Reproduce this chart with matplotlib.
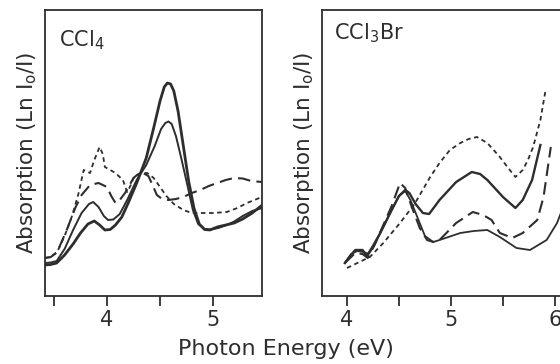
import numpy as np
import matplotlib.pyplot as plt

plt.rcParams['font.family'] = ['DejaVu Sans']
plt.rcParams['mathtext.fontset'] = 'dejavusans'

ink = '#2e2e2e'

# CCl4 spectra (photon energy in eV, absorption in arbitrary units)
ccl4_e_thick = [3.415, 3.47, 3.525, 3.6, 3.68, 3.75, 3.82, 3.88, 3.93, 3.98, 4.03, 4.08,
                4.14, 4.2, 4.28, 4.37, 4.44, 4.5, 4.54, 4.57, 4.6, 4.63, 4.67, 4.72,
                4.77, 4.82, 4.87, 4.92, 4.97, 5.04, 5.12, 5.2, 5.28, 5.37, 5.465]
ccl4_a_thick = [0.31, 0.315, 0.33, 0.41, 0.52, 0.63, 0.72, 0.75, 0.71, 0.66, 0.665, 0.71,
                0.79, 0.93, 1.13, 1.38, 1.68, 1.95, 2.09, 2.13, 2.12, 2.05, 1.85, 1.5,
                1.15, 0.88, 0.72, 0.665, 0.66, 0.69, 0.71, 0.73, 0.77, 0.83, 0.91]

ccl4_e_thin = [3.415, 3.47, 3.525, 3.6, 3.68, 3.76, 3.83, 3.87, 3.92, 3.97, 4.01, 4.06,
               4.12, 4.19, 4.28, 4.37, 4.45, 4.51, 4.55, 4.58, 4.61, 4.65, 4.7, 4.76,
               4.81, 4.86, 4.92, 4.98, 5.05, 5.13, 5.2, 5.28, 5.37, 5.465]
ccl4_a_thin = [0.33, 0.335, 0.35, 0.47, 0.66, 0.83, 0.92, 0.94, 0.89, 0.8, 0.76, 0.765,
               0.82, 0.96, 1.16, 1.31, 1.5, 1.67, 1.73, 1.745, 1.72, 1.6, 1.38, 1.1,
               0.86, 0.72, 0.67, 0.665, 0.68, 0.71, 0.745, 0.8, 0.85, 0.88]

ccl4_e_short = [3.415, 3.47, 3.53, 3.6, 3.67, 3.73, 3.78, 3.84, 3.88, 3.93, 3.96, 3.98,
                4.03, 4.08, 4.15, 4.19, 4.22, 4.25, 4.31, 4.38, 4.44, 4.5, 4.56, 4.63,
                4.72, 4.8, 4.9, 5.0, 5.13, 5.23, 5.32, 5.46]
ccl4_a_short = [0.38, 0.39, 0.44, 0.6, 0.8, 1.02, 1.26, 1.23, 1.36, 1.49, 1.42, 1.29,
                1.26, 1.23, 1.16, 1.04, 1.1, 1.18, 1.23, 1.23, 1.18, 1.09, 1.0, 0.92,
                0.86, 0.83, 0.83, 0.83, 0.84, 0.88, 0.93, 0.99]

ccl4_e_long = [3.415, 3.47, 3.53, 3.62, 3.7, 3.76, 3.84, 3.92, 4.0, 4.04, 4.08, 4.12,
               4.17, 4.25, 4.3, 4.34, 4.39, 4.43, 4.47, 4.52, 4.58, 4.65, 4.72, 4.8,
               4.88, 4.96, 5.04, 5.12, 5.2, 5.28, 5.36, 5.46]
ccl4_a_long = [0.38, 0.39, 0.44, 0.66, 0.88, 1.01, 1.11, 1.13, 1.09, 1.0, 0.93, 0.96,
               1.03, 1.18, 1.225, 1.23, 1.2, 1.11, 1.01, 0.97, 0.96, 0.97, 0.99, 1.03,
               1.06, 1.1, 1.13, 1.16, 1.18, 1.175, 1.15, 1.14]

# CCl3Br spectra
br_e_short = [4.0, 4.1, 4.22, 4.35, 4.51, 4.65, 4.8, 4.89, 4.99, 5.09, 5.17, 5.25,
              5.35, 5.47, 5.55, 5.62, 5.69, 5.74, 5.79, 5.86, 5.91]
br_a_short = [0.28, 0.33, 0.39, 0.53, 0.73, 0.92, 1.19, 1.33, 1.46, 1.53, 1.57, 1.59,
              1.53, 1.39, 1.28, 1.19, 1.26, 1.36, 1.49, 1.76, 2.06]

br_e_upper = [3.98, 4.03, 4.08, 4.15, 4.19, 4.25, 4.32, 4.43, 4.5, 4.56, 4.6, 4.66,
              4.73, 4.79, 4.89, 5.05, 5.2, 5.28, 5.35, 5.5, 5.62, 5.69, 5.78, 5.86]
br_a_upper = [0.33, 0.4, 0.46, 0.46, 0.4, 0.5, 0.63, 0.86, 1.0, 1.06, 1.03, 0.92,
              0.83, 0.82, 0.96, 1.14, 1.24, 1.22, 1.16, 0.99, 0.88, 0.96, 1.16, 1.51]

br_e_long = [3.98, 4.03, 4.08, 4.15, 4.2, 4.26, 4.32, 4.43, 4.51, 4.56, 4.62, 4.7,
             4.77, 4.83, 4.89, 5.05, 5.21, 5.31, 5.39, 5.47, 5.59, 5.69, 5.83, 5.89, 5.96]
br_a_long = [0.33, 0.38, 0.43, 0.42, 0.38, 0.5, 0.64, 0.9, 1.13, 1.08, 0.9, 0.68,
             0.56, 0.54, 0.56, 0.73, 0.84, 0.81, 0.76, 0.63, 0.58, 0.63, 0.76, 0.99, 1.49]

br_e_lower = [3.98, 4.04, 4.1, 4.16, 4.21, 4.27, 4.32, 4.43, 4.5, 4.56, 4.61, 4.68,
              4.75, 4.83, 4.89, 5.09, 5.22, 5.35, 5.47, 5.63, 5.76, 5.92, 6.02, 6.12]
br_a_lower = [0.33, 0.42, 0.45, 0.44, 0.42, 0.52, 0.63, 0.86, 1.0, 1.05, 0.96, 0.78,
              0.6, 0.54, 0.56, 0.63, 0.65, 0.66, 0.59, 0.48, 0.46, 0.56, 0.73, 1.0]

fig = plt.figure(figsize=(5.6, 3.64), dpi=100)
H = 364.0
W = 560.0
ax1 = fig.add_axes([45 / W, (H - 296) / H, 217 / W, 286 / H])
ax2 = fig.add_axes([322 / W, (H - 296) / H, 250 / W, 286 / H])

ax1.plot(ccl4_e_thick, ccl4_a_thick, color=ink, lw=2.0)
ax1.plot(ccl4_e_thin, ccl4_a_thin, color=ink, lw=1.4)
ax1.plot(ccl4_e_short, ccl4_a_short, color=ink, lw=1.3, dashes=(2.5, 2))
ax1.plot(ccl4_e_long, ccl4_a_long, color=ink, lw=1.5, dashes=(6, 3))
ax1.set_xlim(3.415, 5.462)
ax1.set_xticks([4, 5])
ax1.set_xticks([3.5, 4.5], minor=True)

ax2.plot(br_e_short, br_a_short, color=ink, lw=1.3, dashes=(2.5, 2))
ax2.plot(br_e_upper, br_a_upper, color=ink, lw=1.7)
ax2.plot(br_e_long, br_a_long, color=ink, lw=1.5, dashes=(6, 3))
ax2.plot(br_e_lower, br_a_lower, color=ink, lw=1.3)
ax2.set_xlim(3.76, 3.76 + 250 / 104)
ax2.set_xticks([4, 5, 6])
ax2.set_xticks([4.5, 5.5], minor=True)

for ax in (ax1, ax2):
    ax.set_ylim(0, 2.86)
    ax.set_yticks([])
    for s in ax.spines.values():
        s.set_color(ink)
        s.set_linewidth(1.3)
    ax.tick_params(axis='x', which='both', direction='out', length=7, width=1.3,
                   color=ink, labelsize=15, labelcolor=ink, pad=3)
    ax.set_ylabel('Absorption (Ln I$_\\mathregular{o}$/I)', fontsize=15.5, color=ink,
                  labelpad=4)

ax1.text(0.065, 0.895, 'CCl$_4$', transform=ax1.transAxes, fontsize=15, color=ink,
         va='center')
ax2.text(0.05, 0.92, 'CCl$_3$Br', transform=ax2.transAxes, fontsize=15, color=ink,
         va='center')

fig.text(0.51, 0.04, 'Photon Energy (eV)', ha='center', va='center', fontsize=16,
         color=ink)

fig.savefig('out.png', dpi=100)
